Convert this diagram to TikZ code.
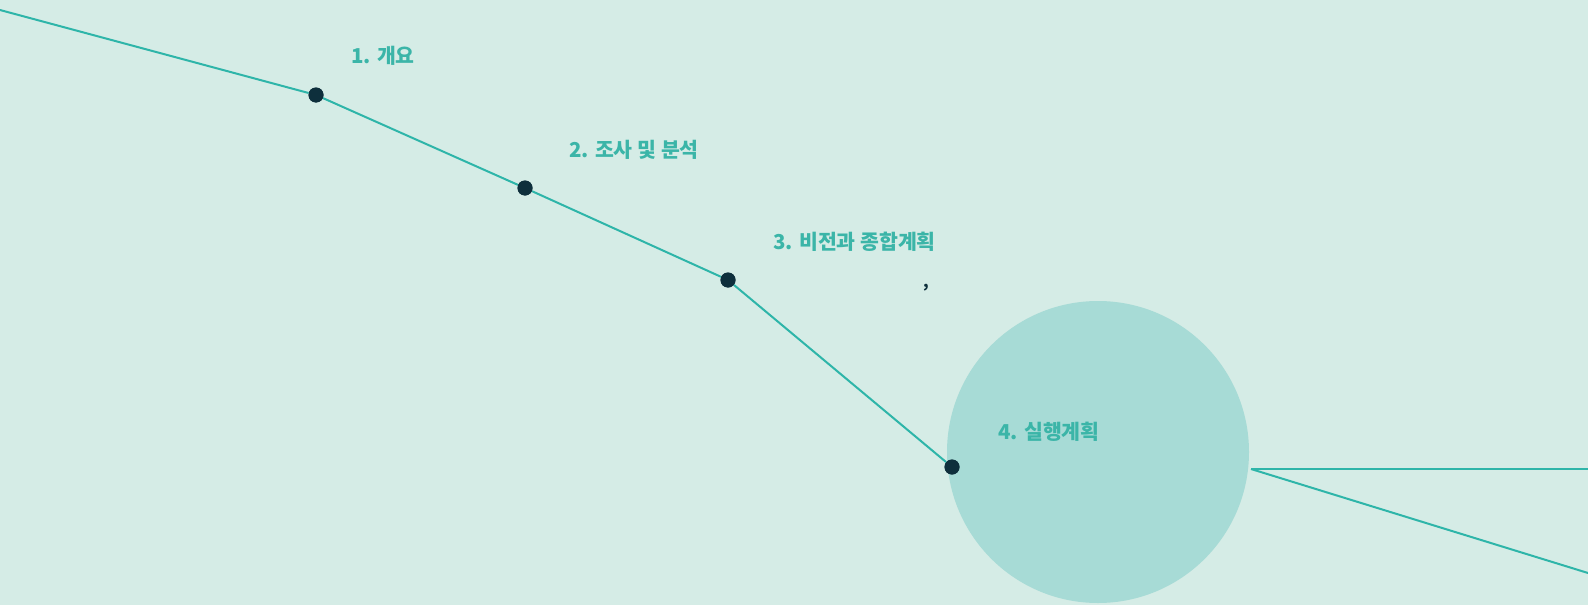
\documentclass[tikz,border=0pt]{standalone}
\usepackage{fontspec}
\newfontfamily\krfont{Noto Sans CJK KR}
\definecolor{bgc}{HTML}{D5ECE6}
\definecolor{circc}{HTML}{A7DBD6}
\definecolor{linec}{HTML}{2EB5A9}
\definecolor{dotc}{HTML}{0E2F3C}
\definecolor{txtc}{HTML}{3BB5A8}
\tikzset{
  stepdot/.style={circle,fill=dotc,inner sep=0pt,minimum size=15pt},
  conn/.style={draw=linec,line width=2pt},
  steplabel/.style={anchor=west,inner sep=0pt,text=txtc,font=\krfont\bfseries\fontsize{20.5}{20.5}\selectfont},
}
\begin{document}
\begin{tikzpicture}[x=1pt,y=-1pt]
\fill[bgc] (0,0) rectangle (1588,605);
\useasboundingbox (0,0) rectangle (1588,605);
\node[circle,fill=circc,inner sep=0pt,minimum size=302pt] (big) at (1098,452) {};
\coordinate (start) at (0,10);
\coordinate (fork) at (1251,469);
\coordinate (endh) at (1588,469);
\coordinate (endd) at (1588,573);
\node[stepdot] (d1) at (316,95) {};
\node[stepdot] (d2) at (525,188) {};
\node[stepdot] (d3) at (728,280) {};
\node[stepdot] (d4) at (952,467) {};
\draw[conn] (start) -- (d1) -- (d2) -- (d3) -- (d4);
\draw[conn] (fork) -- (endh);
\draw[conn] (fork) -- (endd);
\node[stepdot] at (d1) {};
\node[stepdot] at (d2) {};
\node[stepdot] at (d3) {};
\node[stepdot] at (d4) {};
\node[steplabel] (t1) at (351,56) {1. 개요};
\node[steplabel] (t2) at (569,150) {2. 조사 및 분석};
\node[steplabel] (t3) at (773,242) {3. 비전과 종합계획};
\node[steplabel] (t4) at (998,432) {4. 실행계획};
\node[inner sep=0pt,text=dotc,font=\krfont\bfseries\fontsize{16}{16}\selectfont] (cm) at (926,288) {,};
\end{tikzpicture}
\end{document}
